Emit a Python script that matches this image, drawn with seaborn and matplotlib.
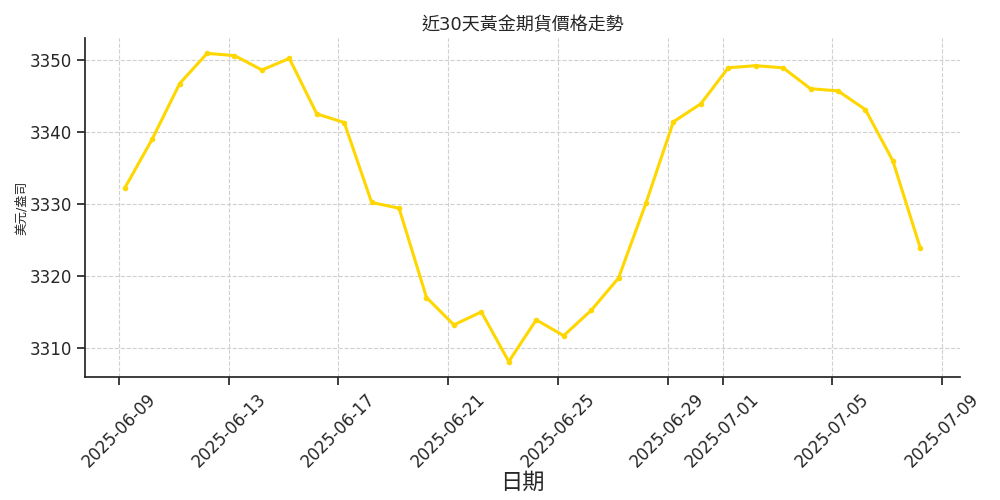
import pandas as pd
import seaborn as sns
import matplotlib.pyplot as plt

dates = pd.date_range("2025-06-09 05:00", periods=30, freq="D")
prices = [3332.2, 3339.0, 3346.7, 3350.9, 3350.6, 3348.6, 3350.2, 3342.5, 3341.3, 3330.2,
          3329.4, 3317.0, 3313.2, 3315.0, 3308.1, 3313.9, 3311.7, 3315.2, 3319.7, 3330.1,
          3341.4, 3343.9, 3348.9, 3349.2, 3348.9, 3346.0, 3345.7, 3343.1, 3336.0, 3323.9]

df = pd.DataFrame({"日期": dates, "價格": prices})

sns.set_theme(style="ticks")
plt.rcParams["font.family"] = ["DejaVu Sans", "Noto Sans CJK TC"]

fig, ax = plt.subplots(figsize=(10, 5), dpi=100)
sns.lineplot(data=df, x="日期", y="價格", color="#FFD700", linewidth=2.2,
             marker="o", markersize=4, markeredgewidth=0, ax=ax)

ax.set_title("近30天黃金期貨價格走勢", fontsize=13)
ax.set_xlabel("日期", fontsize=16, labelpad=1)
ax.set_ylabel("美元/盎司", fontsize=9, labelpad=1)
ax.grid(True, linestyle="--", color="#d0d0d0", linewidth=0.8)
ax.tick_params(labelsize=12)
plt.xticks(rotation=45)
sns.despine()
fig.subplots_adjust(left=0.085, right=0.96, top=0.924, bottom=0.246)
plt.savefig("out.png")
